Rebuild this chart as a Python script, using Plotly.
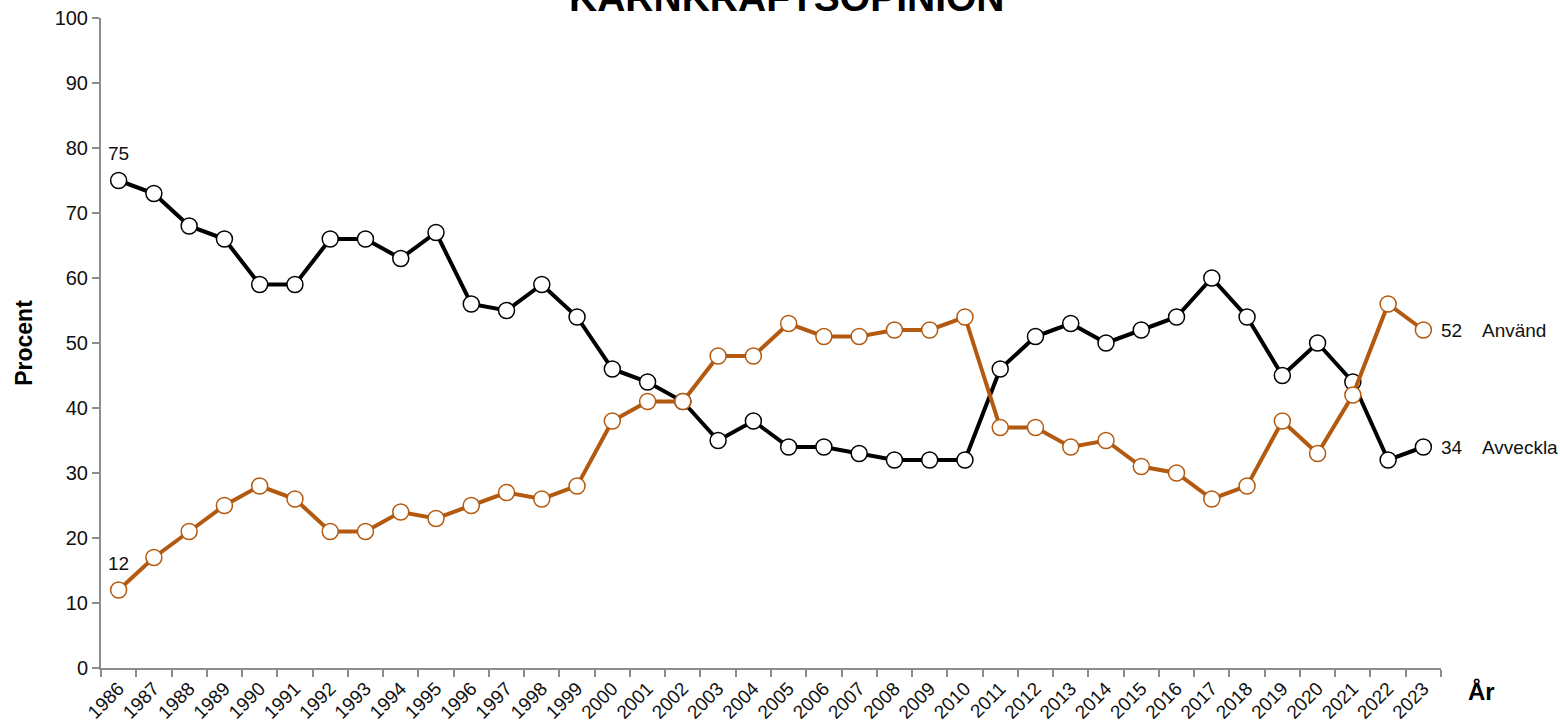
import plotly.graph_objects as go

YEARS = [str(y) for y in range(1986, 2024)]
AVVECKLA = [75, 73, 68, 66, 59, 59, 66, 66, 63, 67, 56, 55, 59, 54, 46, 44, 41, 35, 38, 34,
            34, 33, 32, 32, 32, 46, 51, 53, 50, 52, 54, 60, 54, 45, 50, 44, 32, 34]
ANVAND = [12, 17, 21, 25, 28, 26, 21, 21, 24, 23, 25, 27, 26, 28, 38, 41, 41, 48, 48, 53,
          51, 51, 52, 52, 54, 37, 37, 34, 35, 31, 30, 26, 28, 38, 33, 42, 56, 52]
SERIES_NAMES = ["Använd", "Avveckla"]
Y_TICKS = list(range(0, 101, 10))

ORANGE = "#B35A10"
BLACK = "#000000"
FONT = "Arial, Liberation Sans, sans-serif"

W, H = 1560, 727
L, R, T, B = 101, 119, 18, 59
pw, ph = W - L - R, H - T - B

fig = go.Figure()
for name, vals, col in [(SERIES_NAMES[1], AVVECKLA, BLACK), (SERIES_NAMES[0], ANVAND, ORANGE)]:
    fig.add_trace(go.Scatter(
        x=YEARS, y=vals, mode="lines+markers", name=name,
        line=dict(color=col, width=4),
        marker=dict(symbol="circle", size=16, color="white", line=dict(color=col, width=1.5)),
        showlegend=False, cliponaxis=False,
    ))

last = len(YEARS) - 1
ann = []
# start labels
for vals in (AVVECKLA, ANVAND):
    ann.append(dict(x=0, y=vals[0], text=str(vals[0]), showarrow=False,
                    xref="x", yref="y", yshift=27,
                    font=dict(family=FONT, size=19, color="#111")))
# end labels
for name, vals in [(SERIES_NAMES[0], ANVAND), (SERIES_NAMES[1], AVVECKLA)]:
    ann.append(dict(x=last, y=vals[-1], text=f"{vals[-1]}", showarrow=False,
                    xref="x", yref="y", xanchor="left", xshift=16,
                    font=dict(family=FONT, size=19, color="#111")))
    ann.append(dict(x=last, y=vals[-1], text=name, showarrow=False,
                    xref="x", yref="y", xanchor="left", xshift=57,
                    font=dict(family=FONT, size=19, color="#111")))
# title (cut off at top)
ann.append(dict(x=(787 - L) / pw, y=1, xref="paper", yref="paper", xanchor="center",
                yanchor="bottom", yshift=-3, showarrow=False,
                text="<b>KÄRNKRAFTSOPINION</b>", font=dict(family=FONT, size=39, color="black")))
# x axis title
ann.append(dict(x=(1481 - L) / pw, y=-(691 - (H - B)) / ph, xref="paper", yref="paper",
                xanchor="center", yanchor="middle", showarrow=False,
                text="<b>År</b>", font=dict(family=FONT, size=24, color="black")))

fig.update_layout(
    annotations=ann,
    width=W, height=H,
    margin=dict(l=L, r=R, t=T, b=B, autoexpand=False),
    paper_bgcolor="white", plot_bgcolor="white",
    font=dict(family=FONT, color="#111"),
    xaxis=dict(type="category", range=[-0.5, len(YEARS) - 0.5], tickson="boundaries",
               showline=True, linecolor="#8c8c8c", linewidth=2,
               ticks="outside", ticklen=7, tickcolor="#8c8c8c", tickwidth=1.5,
               tickangle=-45, tickfont=dict(size=19, family=FONT, color="#111"),
               showgrid=False, zeroline=False),
    yaxis=dict(range=[0, 100], tickvals=Y_TICKS, showline=True, linecolor="#8c8c8c", linewidth=2,
               ticks="outside", ticklen=7, tickcolor="#8c8c8c", tickwidth=1.5,
               tickfont=dict(size=20, family=FONT, color="#111"),
               showgrid=False, zeroline=False,
               title=dict(text="<b>Procent</b>", font=dict(size=23, family=FONT, color="black"),
                          standoff=16)),
)

fig.write_html("out.html", config={"displayModeBar": False},
               post_script="document.body.style.margin='0';")
